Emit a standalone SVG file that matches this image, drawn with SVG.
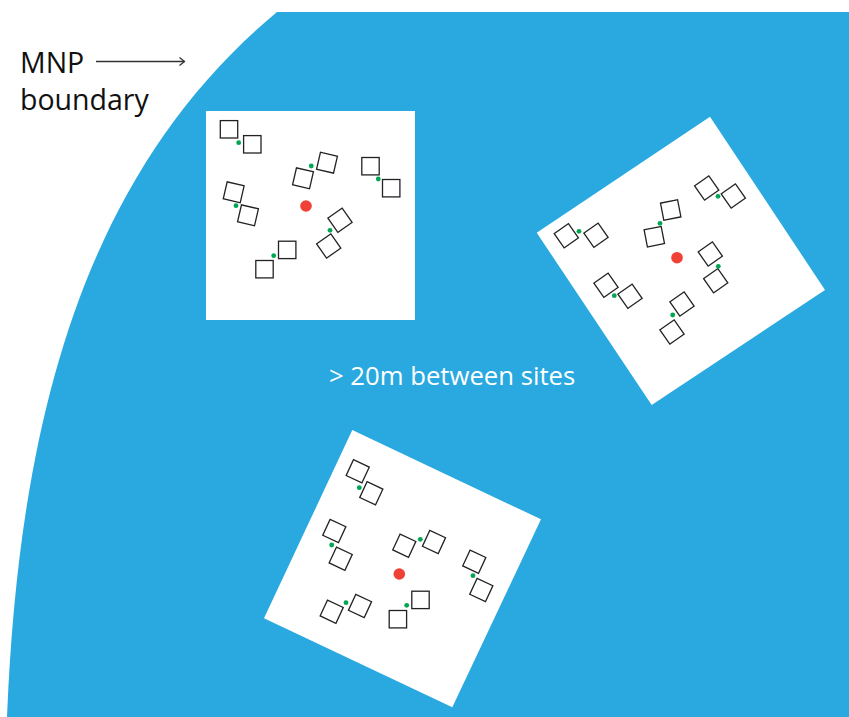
<svg xmlns="http://www.w3.org/2000/svg" width="849" height="717" viewBox="0 0 849 717">
  <style>
    .lbl{font-family:"Open Sans","Liberation Sans",sans-serif;fill:#111;font-size:28.5px}
    .note{font-family:"Open Sans","Liberation Sans",sans-serif;fill:#fff;font-size:25.7px}
    .site{fill:#fff}
    .q{fill:#fff;stroke:#222;stroke-width:1.3}
    .g{fill:#00a651}
    .r{fill:#ef4136}
  </style>
  <defs>
    <rect id="sq" class="q" x="-8.7" y="-8.7" width="17.4" height="17.4"/>
  </defs>
  <rect width="849" height="717" fill="#fff"/>
  <g id="mnp-area">
    <path d="M277,12 C85,172 19,417 7,717 L849,717 L849,12 Z" fill="#29a9e0"/>
  </g>
  <g id="mnp-label">
    <text class="lbl" x="20" y="73">MNP</text>
    <text class="lbl" x="20" y="110">boundary</text>
  </g>
  <g id="connectors" fill="none" stroke="#333" stroke-width="1.3">
    <line x1="96" y1="61.5" x2="184.5" y2="61.5"/>
    <path d="M179.5,57.5 L184.5,61.5 L179.5,65.5"/>
  </g>
  <g id="site1">
    <rect class="site" x="206" y="111" width="209" height="209"/>
    <use href="#sq" transform="translate(229,129.3)"/>
    <use href="#sq" transform="translate(252.3,144.3)"/>
    <circle class="g" cx="238.7" cy="142.7" r="2.4"/>
    <use href="#sq" transform="translate(303,178.3) rotate(13)"/>
    <use href="#sq" transform="translate(327,162.7) rotate(13)"/>
    <circle class="g" cx="311.3" cy="166" r="2.4"/>
    <use href="#sq" transform="translate(370.5,166.2)"/>
    <use href="#sq" transform="translate(391.2,188.2)"/>
    <circle class="g" cx="378.3" cy="179" r="2.4"/>
    <use href="#sq" transform="translate(233.7,192.3) rotate(13)"/>
    <use href="#sq" transform="translate(248,215.3) rotate(13)"/>
    <circle class="g" cx="236" cy="205.7" r="2.4"/>
    <use href="#sq" transform="translate(340,220.3) rotate(-35)"/>
    <use href="#sq" transform="translate(328.7,246) rotate(-35)"/>
    <circle class="g" cx="330" cy="230.3" r="2.4"/>
    <use href="#sq" transform="translate(287.2,249.9)"/>
    <use href="#sq" transform="translate(264.5,269.2)"/>
    <circle class="g" cx="273.7" cy="255.7" r="2.4"/>
    <circle class="r" cx="306" cy="206" r="5.8"/>
  </g>
  <g id="site2">
    <polygon class="site" points="710,116.7 825,290 651.7,405 536.7,232.7"/>
    <use href="#sq" transform="translate(566.3,235.7) rotate(-35)"/>
    <use href="#sq" transform="translate(596,235.3) rotate(-35)"/>
    <circle class="g" cx="579" cy="231.3" r="2.4"/>
    <use href="#sq" transform="translate(654.3,236.7) rotate(-11)"/>
    <use href="#sq" transform="translate(670.7,210) rotate(-11)"/>
    <circle class="g" cx="660" cy="223.3" r="2.4"/>
    <use href="#sq" transform="translate(706.7,188) rotate(-35)"/>
    <use href="#sq" transform="translate(733.3,196) rotate(-35)"/>
    <circle class="g" cx="718" cy="196.3" r="2.4"/>
    <use href="#sq" transform="translate(710.3,254) rotate(-35)"/>
    <use href="#sq" transform="translate(715.7,280.7) rotate(-35)"/>
    <circle class="g" cx="718.3" cy="266.3" r="2.4"/>
    <use href="#sq" transform="translate(606,285.3) rotate(-35)"/>
    <use href="#sq" transform="translate(630,296.3) rotate(-35)"/>
    <circle class="g" cx="614.3" cy="295.7" r="2.4"/>
    <use href="#sq" transform="translate(682,304) rotate(-35)"/>
    <use href="#sq" transform="translate(672,332) rotate(-35)"/>
    <circle class="g" cx="672.7" cy="315" r="2.4"/>
    <circle class="r" cx="677" cy="257.7" r="5.8"/>
  </g>
  <g id="site3">
    <polygon class="site" points="352.3,430 541,519.3 452.3,707.3 264,618.3"/>
    <use href="#sq" transform="translate(357.7,471.3) rotate(25)"/>
    <use href="#sq" transform="translate(371.3,493.3) rotate(25)"/>
    <circle class="g" cx="359.3" cy="487.7" r="2.4"/>
    <use href="#sq" transform="translate(334.3,531) rotate(25)"/>
    <use href="#sq" transform="translate(340.7,558.7) rotate(25)"/>
    <circle class="g" cx="331.7" cy="545" r="2.4"/>
    <use href="#sq" transform="translate(404.3,545.7) rotate(25)"/>
    <use href="#sq" transform="translate(434,542) rotate(25)"/>
    <circle class="g" cx="420.3" cy="539.3" r="2.4"/>
    <use href="#sq" transform="translate(474.3,561.7) rotate(25)"/>
    <use href="#sq" transform="translate(481.3,590) rotate(25)"/>
    <circle class="g" cx="473" cy="575.7" r="2.4"/>
    <use href="#sq" transform="translate(331.7,611.7) rotate(25)"/>
    <use href="#sq" transform="translate(360,606) rotate(25)"/>
    <circle class="g" cx="346" cy="602.7" r="2.4"/>
    <use href="#sq" transform="translate(420.5,599.9)"/>
    <use href="#sq" transform="translate(397.9,619.2)"/>
    <circle class="g" cx="406.7" cy="605.3" r="2.4"/>
    <circle class="r" cx="399.3" cy="574" r="5.8"/>
  </g>
  <g id="distance-note">
    <text class="note" x="329" y="385">&gt; 20m between sites</text>
  </g>
</svg>
